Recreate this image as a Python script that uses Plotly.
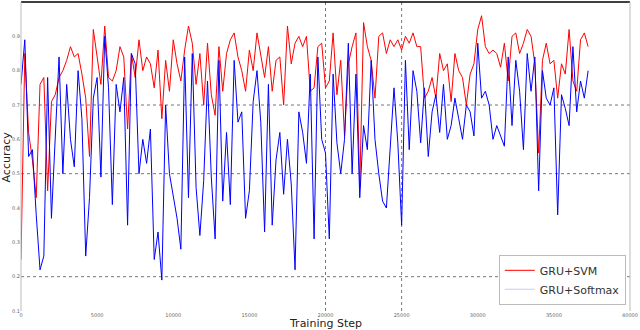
import plotly.graph_objects as go

steps = [i * 250 for i in range(150)]

svm_acc = [
    0.25, 0.85, 0.62, 0.54, 0.43, 0.76, 0.78, 0.45, 0.71, 0.73,
    0.78, 0.80, 0.83, 0.87, 0.84, 0.85, 0.79, 0.72, 0.55, 0.92,
    0.84, 0.76, 0.93, 0.78, 0.77, 0.80, 0.87, 0.84, 0.63, 0.85,
    0.78, 0.89, 0.80, 0.84, 0.82, 0.75, 0.86, 0.66, 0.83,
    0.74, 0.89, 0.82, 0.77, 0.86, 0.93, 0.88, 0.76, 0.85, 0.70,
    0.88, 0.73, 0.67, 0.87, 0.74, 0.85, 0.89, 0.91, 0.84, 0.80,
    0.74, 0.86, 0.80, 0.91, 0.85, 0.78, 0.87, 0.74, 0.83, 0.84,
    0.70, 0.93, 0.82, 0.88, 0.90, 0.87, 0.90, 0.74, 0.75,
    0.87, 0.88, 0.75, 0.77, 0.91, 0.73, 0.83, 0.61, 0.82, 0.87,
    0.91, 0.46, 0.94, 0.87, 0.83, 0.72, 0.90, 0.91, 0.85, 0.89,
    0.87, 0.89, 0.86, 0.90, 0.88, 0.91, 0.87, 0.87, 0.72, 0.74,
    0.78, 0.72, 0.85, 0.80, 0.82, 0.71, 0.85, 0.80, 0.78,
    0.70, 0.79, 0.82, 0.92, 0.96, 0.87, 0.85, 0.86, 0.85, 0.81,
    0.88, 0.77, 0.90, 0.91, 0.85, 0.88, 0.92, 0.90, 0.82, 0.56,
    0.83, 0.88, 0.82, 0.83, 0.72, 0.82, 0.79, 0.92, 0.77, 0.74,
    0.89, 0.91, 0.87,
]

softmax_acc = [
    0.76, 0.89, 0.55, 0.57, 0.38, 0.22, 0.26, 0.78, 0.37, 0.62,
    0.84, 0.50, 0.76, 0.60, 0.52, 0.80, 0.66, 0.26, 0.43, 0.72,
    0.78, 0.49, 0.90, 0.75, 0.41, 0.76, 0.68, 0.78, 0.35, 0.85,
    0.82, 0.50, 0.60, 0.53, 0.63, 0.25, 0.33, 0.19, 0.70,
    0.50, 0.43, 0.37, 0.28, 0.84, 0.43, 0.85, 0.46, 0.32, 0.48,
    0.77, 0.49, 0.31, 0.83, 0.42, 0.62, 0.41, 0.83, 0.65, 0.68,
    0.37, 0.45, 0.71, 0.80, 0.65, 0.33, 0.76, 0.35, 0.54, 0.62,
    0.44, 0.60, 0.47, 0.22, 0.68, 0.62, 0.53, 0.79, 0.31,
    0.84, 0.60, 0.56, 0.31, 0.79, 0.59, 0.50, 0.60, 0.88, 0.50,
    0.79, 0.43, 0.64, 0.57, 0.83, 0.60, 0.50, 0.42, 0.40, 0.56,
    0.75, 0.59, 0.35, 0.83, 0.57, 0.80, 0.74, 0.59, 0.75, 0.55,
    0.68, 0.73, 0.62, 0.76, 0.60, 0.64, 0.72, 0.66, 0.60,
    0.70, 0.68, 0.61, 0.88, 0.72, 0.74, 0.70, 0.60, 0.64, 0.61,
    0.58, 0.84, 0.64, 0.83, 0.74, 0.57, 0.85, 0.74, 0.84, 0.45,
    0.80, 0.72, 0.70, 0.75, 0.38, 0.73, 0.69, 0.64, 0.87, 0.68,
    0.77, 0.72, 0.80,
]

y_ticks = [0.1, 0.2, 0.3, 0.4, 0.5, 0.6, 0.7, 0.8, 0.9, 1.0]
x_ticks = [0, 5000, 10000, 15000, 20000, 25000, 30000, 35000, 40000]
y_grid = [0.2, 0.5, 0.7]
x_grid = [20000, 25000]

fig = go.Figure()
fig.add_trace(go.Scatter(x=steps, y=svm_acc, mode="lines", name="GRU+SVM",
                         line=dict(color="#ff0000", width=1)))
fig.add_trace(go.Scatter(x=steps, y=softmax_acc, mode="lines", name="GRU+Softmax",
                         line=dict(color="#0000ff", width=1), showlegend=False))
fig.add_trace(go.Scatter(x=[None], y=[None], mode="lines", name="GRU+Softmax",
                         line=dict(color="#c8c8ff", width=1.1)))

shapes = []
for g in y_grid:
    shapes.append(dict(type="line", xref="paper", yref="y", x0=0, x1=1, y0=g, y1=g,
                       line=dict(color="#777777", width=1, dash="dot"), layer="below"))
for g in x_grid:
    shapes.append(dict(type="line", xref="x", yref="paper", x0=g, x1=g, y0=0, y1=1,
                       line=dict(color="#777777", width=1, dash="dot"), layer="below"))
# spines
shapes.append(dict(type="line", xref="paper", yref="paper", x0=0, x1=1, y0=1, y1=1,
                   line=dict(color="#000000", width=1.5)))
shapes.append(dict(type="line", xref="paper", yref="paper", x0=0, x1=0, y0=0, y1=1,
                   line=dict(color="#bbbbbb", width=1)))
shapes.append(dict(type="line", xref="paper", yref="paper", x0=1, x1=1, y0=0, y1=1,
                   line=dict(color="#bbbbbb", width=1)))

fig.update_layout(
    width=640, height=330,
    margin=dict(l=21, r=10, t=2, b=19, autoexpand=False),
    paper_bgcolor="white", plot_bgcolor="white",
    font=dict(family="DejaVu Sans", color="#333333"),
    shapes=shapes,
    xaxis=dict(range=[0, 40000], tickvals=x_ticks, ticktext=[str(v) for v in x_ticks],
               showgrid=False, zeroline=False, showline=False, ticks="",
               automargin=False,
               tickfont=dict(size=5, color="#666666"), ticklen=0),
    yaxis=dict(range=[0.1, 1.0], tickvals=y_ticks, ticktext=[f"{v:.1f}" for v in y_ticks],
               showgrid=False, zeroline=False, showline=False, ticks="",
               automargin=False,
               tickfont=dict(size=5, color="#666666")),
    legend=dict(x=0.993, y=0.02, xanchor="right", yanchor="bottom",
                bgcolor="white", bordercolor="#bbbbbb", borderwidth=1,
                font=dict(size=11, color="#333333"), tracegroupgap=0),
    annotations=[
        dict(text="Training Step", xref="paper", yref="paper", x=0.5, y=-0.013,
             xanchor="center", yanchor="top", showarrow=False,
             font=dict(size=11, color="#222222")),
        dict(text="Accuracy", xref="paper", yref="paper", x=-0.023, y=0.5,
             textangle=-90, xanchor="center", yanchor="middle", showarrow=False,
             font=dict(size=11, color="#222222")),
    ],
)

fig.write_html("out.html", config={"displayModeBar": False},
               post_script="document.body.style.margin='0';document.body.style.overflow='hidden';")
